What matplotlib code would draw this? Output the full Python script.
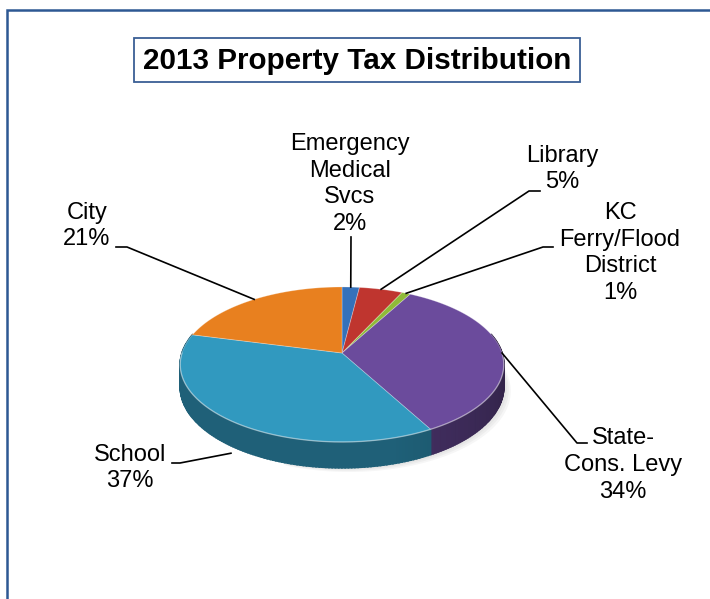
import numpy as np
import matplotlib
matplotlib.use('Agg')
import matplotlib.pyplot as plt
from matplotlib.patches import Polygon, Rectangle
from matplotlib.colors import to_rgb

plt.rcParams['font.family'] = ['Liberation Sans', 'DejaVu Sans']

title = '2013 Property Tax Distribution'
names = ['Emergency\nMedical\nSvcs', 'Library', 'KC\nFerry/Flood\nDistrict',
         'State-\nCons. Levy', 'School', 'City']
shares = [2, 5, 1, 34, 37, 21]
top_colors = ['#3571BA', '#BF352F', '#8FBA38', '#6B4B9C', '#3199BF', '#E8801F']

# label block centres and leader elbows (pixel space, y down)
label_xy = [(350, 184), (562, 169), (620, 253), (623, 465), (130, 468), (87, 226)]
elbows = [((351, 237), None), ((540, 191), (529, 191)), ((553, 247), (543, 247)),
          ((587, 443), (577, 443)), ((172, 463), (180, 463)), ((116, 247), (127, 247))]
anchor_z = [0, 0, 0, 0, 1.3, 0]

# pie geometry: centre, radii, perspective factor, thickness
cx, cy = 342, 353
rx, ry = 160, 75.8
k = 0.148
depth = 22


def rim(phi, z=0.0):
    # phi = degrees clockwise from 12 o'clock
    t = np.radians(90 - np.asarray(phi, dtype=float))
    u, v = np.cos(t), np.sin(t)
    s = 1.0 / (1.0 + k * v)
    return cx + rx * u * s, cy - ry * v * s + depth * z * s


def shade(col, f):
    r, g, b = to_rgb(col)
    return (r * f, g * f, b * f)


def side_factor(phi):
    return 0.44 + 0.19 * min(1.0, max(0.0, (phi - 90) / 75))


fig = plt.figure(figsize=(7.1, 5.99), dpi=100)
ax = fig.add_axes([0, 0, 1, 1])
ax.set_xlim(0, 710)
ax.set_ylim(599, 0)
ax.axis('off')

# outer frame
ax.plot([7, 7, 712], [601, 10, 10], color='#2D5893', lw=1.8, solid_joinstyle='miter')

# title box
ax.add_patch(Rectangle((134, 38), 446, 44, facecolor='white', edgecolor='#3A5F95', lw=1.3))
ax.text(357, 61, title, ha='center', va='center', fontsize=21.3, fontweight='bold')

bounds = np.concatenate([[0], np.cumsum(shares)]) * 360.0 / sum(shares)

# soft shadow under the right side
for off in [7, 5, 3]:
    ph = np.linspace(40, 200, 80)
    x, y = rim(ph, 1.0)
    ax.add_patch(Polygon(np.column_stack([np.r_[x + off, cx], np.r_[y + off * 0.6, cy]]),
                         facecolor='#808080', edgecolor='none', alpha=0.07, zorder=0))

# side walls: base fill, then thin strips for shading
for a, b, col in zip(bounds[:-1], bounds[1:], top_colors):
    lo, hi = max(a, 75), min(b, 285)
    if lo >= hi:
        continue
    edges = np.linspace(lo, hi, int(hi - lo) + 2)
    x0, y0 = rim(edges, 0)
    x1, y1 = rim(edges[::-1], 1)
    base = shade(col, side_factor(0.5 * (lo + hi)))
    ax.add_patch(Polygon(np.column_stack([np.r_[x0, x1], np.r_[y0, y1]]),
                         facecolor=base, edgecolor='none', zorder=1))
    for p0, p1 in zip(edges[:-1], edges[1:]):
        c = shade(col, side_factor(0.5 * (p0 + p1)))
        x0, y0 = rim([p0, p1], 0)
        x1, y1 = rim([p1, p0], 1)
        ax.add_patch(Polygon(np.column_stack([np.r_[x0, x1], np.r_[y0, y1]]),
                             facecolor=c, edgecolor=c, lw=1.2, zorder=1.1))

# top faces
for a, b, col in zip(bounds[:-1], bounds[1:], top_colors):
    ph = np.linspace(a, b, max(4, int(b - a) * 2))
    x, y = rim(ph, 0)
    ax.add_patch(Polygon(np.column_stack([np.r_[cx, x], np.r_[cy, y]]),
                         facecolor=col, edgecolor=(1, 1, 1, 0.3), lw=0.6, zorder=2))

# light rim along the front edge
ph = np.linspace(90, 270, 200)
x, y = rim(ph, 0)
ax.plot(x, y, color='white', alpha=0.35, lw=1.0, zorder=3)

# labels and leader lines
for i, (name, pct) in enumerate(zip(names, shares)):
    mid = 0.5 * (bounds[i] + bounds[i + 1])
    ax_, ay_ = rim(mid, anchor_z[i])
    lx, ly = label_xy[i]
    ax.text(lx, ly, f'{name}\n{pct}%', ha='center', va='center', fontsize=17,
            linespacing=1.27, color='black', zorder=5)
    p0, p1 = elbows[i]
    if p1 is None:
        xs, ys = [p0[0], ax_], [p0[1], ay_]
    else:
        xs, ys = [p0[0], p1[0], ax_], [p0[1], p1[1], ay_]
    ax.plot(xs, ys, color='black', lw=1.2, zorder=4)

fig.savefig('out.png', dpi=100, facecolor='white')
